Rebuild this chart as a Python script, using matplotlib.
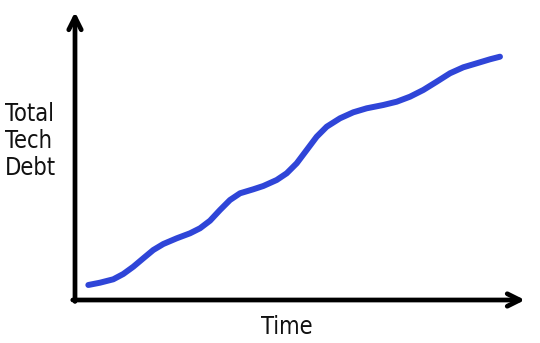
import matplotlib
matplotlib.use('Agg')
import matplotlib.pyplot as plt
from matplotlib import font_manager

# (arbitrary units, 0-100 on both axes)
time = [2.96, 5.56, 8.51, 10.73, 12.96, 15.18, 17.40, 19.62, 22.60, 25.56,
        27.78, 30.00, 32.22, 34.44, 36.67, 39.62, 41.84, 44.82, 47.04, 49.27,
        51.49, 53.71, 55.93, 58.89, 61.84, 64.82, 68.51, 71.49, 74.44, 77.40,
        80.38, 83.33, 86.29, 89.27, 92.22, 94.44]
tech_debt = [5.21, 6.01, 7.19, 9.03, 11.56, 14.48, 17.36, 19.44, 21.42, 23.16,
             24.90, 27.53, 31.25, 34.72, 37.05, 38.44, 39.58, 41.67, 43.99, 47.47,
             52.08, 56.70, 60.17, 63.09, 65.17, 66.56, 67.71, 68.85, 70.59, 72.92,
             75.80, 78.72, 80.80, 82.19, 83.58, 84.48]

x_label = 'Time'
y_label = 'Total\nTech\nDebt'

LINE_BLUE = '#2f45d8'

# narrow font if there is one, the sketch lettering is fairly condensed
names = {(f.name, f.stretch) for f in font_manager.fontManager.ttflist}
if any(n == 'DejaVu Sans' and s == 'condensed' for n, s in names):
    text_kw = dict(family='DejaVu Sans', stretch='condensed')
else:
    text_kw = dict(family='DejaVu Sans')

W, H = 540, 343
fig = plt.figure(figsize=(W / 100, H / 100), dpi=100)
fig.patch.set_facecolor('white')

# axes placed so the origin sits where the hand-drawn axes meet
ax = fig.add_axes([75 / W, (H - 300) / H, 450 / W, 288 / H])
ax.set_xlim(0, 100)
ax.set_ylim(0, 100)
ax.axis('off')

ax.plot(time, tech_debt, color=LINE_BLUE, linewidth=4.3,
        solid_capstyle='round', solid_joinstyle='round')

# hand-drawn style axis arrows
arrow = dict(arrowstyle='->,head_length=0.9,head_width=0.45', color='black',
             linewidth=3.4, shrinkA=0, shrinkB=0, capstyle='round')
ax.annotate('', xy=(0, 100), xytext=(0, -0.5), xycoords='data', arrowprops=arrow,
            annotation_clip=False)
ax.annotate('', xy=(100, 0), xytext=(-0.5, 0), xycoords='data', arrowprops=arrow,
            annotation_clip=False)

fig.text(5 / W, 1 - 141 / H, y_label, ha='left', va='center', fontsize=17,
         linespacing=1.15, color='#111111', **text_kw)
fig.text(287 / W, 1 - 327 / H, x_label, ha='center', va='center', fontsize=17,
         color='#111111', **text_kw)

fig.savefig('out.png', dpi=100, facecolor='white')
